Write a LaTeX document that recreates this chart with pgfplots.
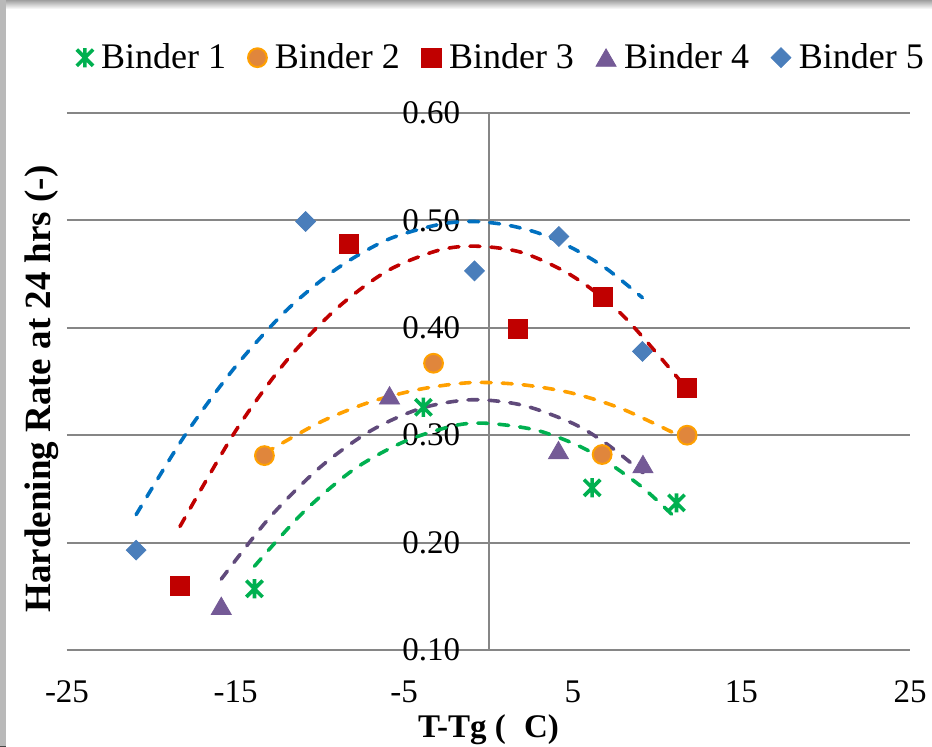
\documentclass[border=0pt]{standalone}
\usepackage{fontspec}
\setmainfont{Liberation Serif}
\usepackage{pgfplots}
\pgfplotsset{compat=1.18}
\definecolor{gridgray}{RGB}{134,134,134}
\definecolor{bgreen}{RGB}{0,176,80}
\definecolor{borange}{RGB}{224,134,60}
\definecolor{borangeedge}{RGB}{255,160,0}
\definecolor{bred}{RGB}{192,0,0}
\definecolor{bpurple}{RGB}{116,90,150}
\definecolor{bblue}{RGB}{74,126,187}
\definecolor{tblue}{RGB}{0,112,192}
\definecolor{tred}{RGB}{192,0,0}
\definecolor{torange}{RGB}{255,160,0}
\definecolor{tpurple}{RGB}{96,74,123}
\definecolor{tgreen}{RGB}{0,176,80}
\pgfdeclareplotmark{xstar}{%
  \pgfpathmoveto{\pgfqpoint{0pt}{-\pgfplotmarksize}}%
  \pgfpathlineto{\pgfqpoint{0pt}{\pgfplotmarksize}}%
  \pgfpathmoveto{\pgfqpoint{-0.85\pgfplotmarksize}{-0.85\pgfplotmarksize}}%
  \pgfpathlineto{\pgfqpoint{0.85\pgfplotmarksize}{0.85\pgfplotmarksize}}%
  \pgfpathmoveto{\pgfqpoint{-0.85\pgfplotmarksize}{0.85\pgfplotmarksize}}%
  \pgfpathlineto{\pgfqpoint{0.85\pgfplotmarksize}{-0.85\pgfplotmarksize}}%
  \pgfusepathqstroke}
\pgfplotsset{trend/.style={forget plot, no markers, smooth, line width=1.8pt,
  dash pattern=on 5pt off 5.5pt, line cap=round}}
\begin{document}
\begin{tikzpicture}
\begin{axis}[
  name=ax,
  width=421.5pt, height=268.5pt, scale only axis,
  xmin=-25, xmax=25, ymin=0.1, ymax=0.6,
  xtick={-25,-15,-5,5,15,25},
  xticklabels={-25,-15,-5,5,15,25},
  ytick={0.1,0.2,0.3,0.4,0.5,0.6},
  yticklabels={0.10,0.20,0.30,0.40,0.50,0.60},
  axis x line=bottom, axis y line=middle,
  hide obscured x ticks=false, hide obscured y ticks=false,
  axis line style={-, draw=gridgray, line width=1pt},
  every inner y axis line/.append style={-},
  every outer x axis line/.append style={-},
  ymajorgrids, grid style={draw=gridgray, line width=1pt},
  major tick length=0pt, tick style={draw=none},
  xticklabel style={font=\rmfamily\fontsize{16.5}{18}\selectfont, anchor=north, inner sep=0pt, yshift=-15pt},
  yticklabel style={font=\rmfamily\fontsize{16.5}{18}\selectfont, anchor=east, inner sep=0pt, xshift=-14pt},
  every axis x label/.style={at={(axis description cs:0.5,0)}, anchor=center, yshift=-40pt,
    font=\rmfamily\bfseries\fontsize{16.5}{18}\selectfont},
  every axis y label/.style={at={(axis description cs:-0.03,0.486)}, anchor=center, rotate=90,
    font=\rmfamily\bfseries\fontsize{18.5}{20}\selectfont},
  xlabel={T-Tg (\hspace{0.55em}C)},
  ylabel={Hardening Rate at 24 hrs (-)},
  legend columns=5,
  legend image code/.code={\draw[#1] plot coordinates {(0pt,0pt)};},
  legend style={at={(axis description cs:0.514,1.103)}, anchor=center, draw=none, fill=none,
    font=\rmfamily\fontsize{18}{20}\selectfont, inner sep=0pt,
    nodes={inner sep=0pt},
    /tikz/every odd column/.append style={column sep=4pt},
    /tikz/every even column/.append style={column sep=11pt}},
]
% Binder 1
\addplot[only marks, mark=xstar, mark size=4.8pt, color=bgreen, mark options={line width=1.8pt}]
  coordinates {(-13.88,0.157) (-3.86,0.326) (6.15,0.251) (11.15,0.237)};
\addlegendentry{Binder 1}
% Binder 2
\addplot[only marks, mark=*, mark size=4.7pt, mark options={fill=borange, draw=borangeedge, line width=1pt}]
  coordinates {(-13.29,0.281) (-3.26,0.367) (6.74,0.282) (11.78,0.300)};
\addlegendentry{Binder 2}
% Binder 3
\addplot[only marks, mark=square*, mark size=4.8pt, mark options={fill=bred, draw=bred}]
  coordinates {(-18.31,0.160) (-8.30,0.478) (1.72,0.399) (6.78,0.429) (11.78,0.344)};
\addlegendentry{Binder 3}
% Binder 4
\addplot[only marks, mark=triangle*, mark size=5.8pt, mark options={fill=bpurple, draw=bpurple, yshift=-1.4pt}]
  coordinates {(-15.85,0.141) (-5.87,0.337) (4.15,0.286) (9.16,0.273)};
\addlegendentry{Binder 4}
% Binder 5
\addplot[only marks, mark=square*, mark size=3.5pt, mark options={fill=bblue, draw=bblue, rotate=45}]
  coordinates {(-20.90,0.193) (-10.85,0.499) (-0.83,0.453) (4.17,0.485) (9.13,0.378)};
\addlegendentry{Binder 5}
% trend lines (polynomial)
\addplot[trend, color=tblue] coordinates {(-20.9,0.226) (-18,0.300) (-15,0.364) (-12,0.416) (-9,0.455) (-6,0.482) (-3,0.496) (-1,0.499) (1,0.496) (3,0.488) (5,0.474) (7,0.455) (9.13,0.428)};
\addplot[trend, color=tred] coordinates {(-18.3,0.215) (-15,0.304) (-12,0.369) (-9,0.418) (-6,0.453) (-3,0.472) (-0.76,0.476) (2,0.470) (5,0.448) (8,0.411) (11.78,0.343)};
\addplot[trend, color=torange] coordinates {(-13.29,0.283) (-10,0.312) (-7,0.331) (-4,0.343) (-1,0.349) (2,0.347) (5,0.339) (8,0.324) (11.78,0.296)};
\addplot[trend, color=tpurple] coordinates {(-15.85,0.166) (-13,0.223) (-10,0.270) (-7,0.304) (-4,0.325) (-1,0.333) (2,0.328) (5,0.311) (7,0.292) (9.16,0.265)};
\addplot[trend, color=tgreen] coordinates {(-13.88,0.178) (-11,0.228) (-8,0.268) (-5,0.294) (-2,0.309) (0,0.311) (3,0.304) (6,0.285) (9,0.253) (11.15,0.222)};
\end{axis}
\coordinate (fsw) at ([xshift=-33.5pt,yshift=-48pt]ax.south west);
\coordinate (fne) at ([xshift=11pt,yshift=56.5pt]ax.north east);
\fill[top color=gray!75, bottom color=white] (fsw |- fne) rectangle ([yshift=-4.5pt]fne);
\fill[gray!55] (fsw |- fne) rectangle ([xshift=3pt,yshift=-47pt]fsw);
\fill[black!72] ([yshift=-47pt]fsw) rectangle ([xshift=3pt]fsw);
\pgfresetboundingbox
\path (fsw) rectangle (fne);
\end{tikzpicture}
\end{document}
